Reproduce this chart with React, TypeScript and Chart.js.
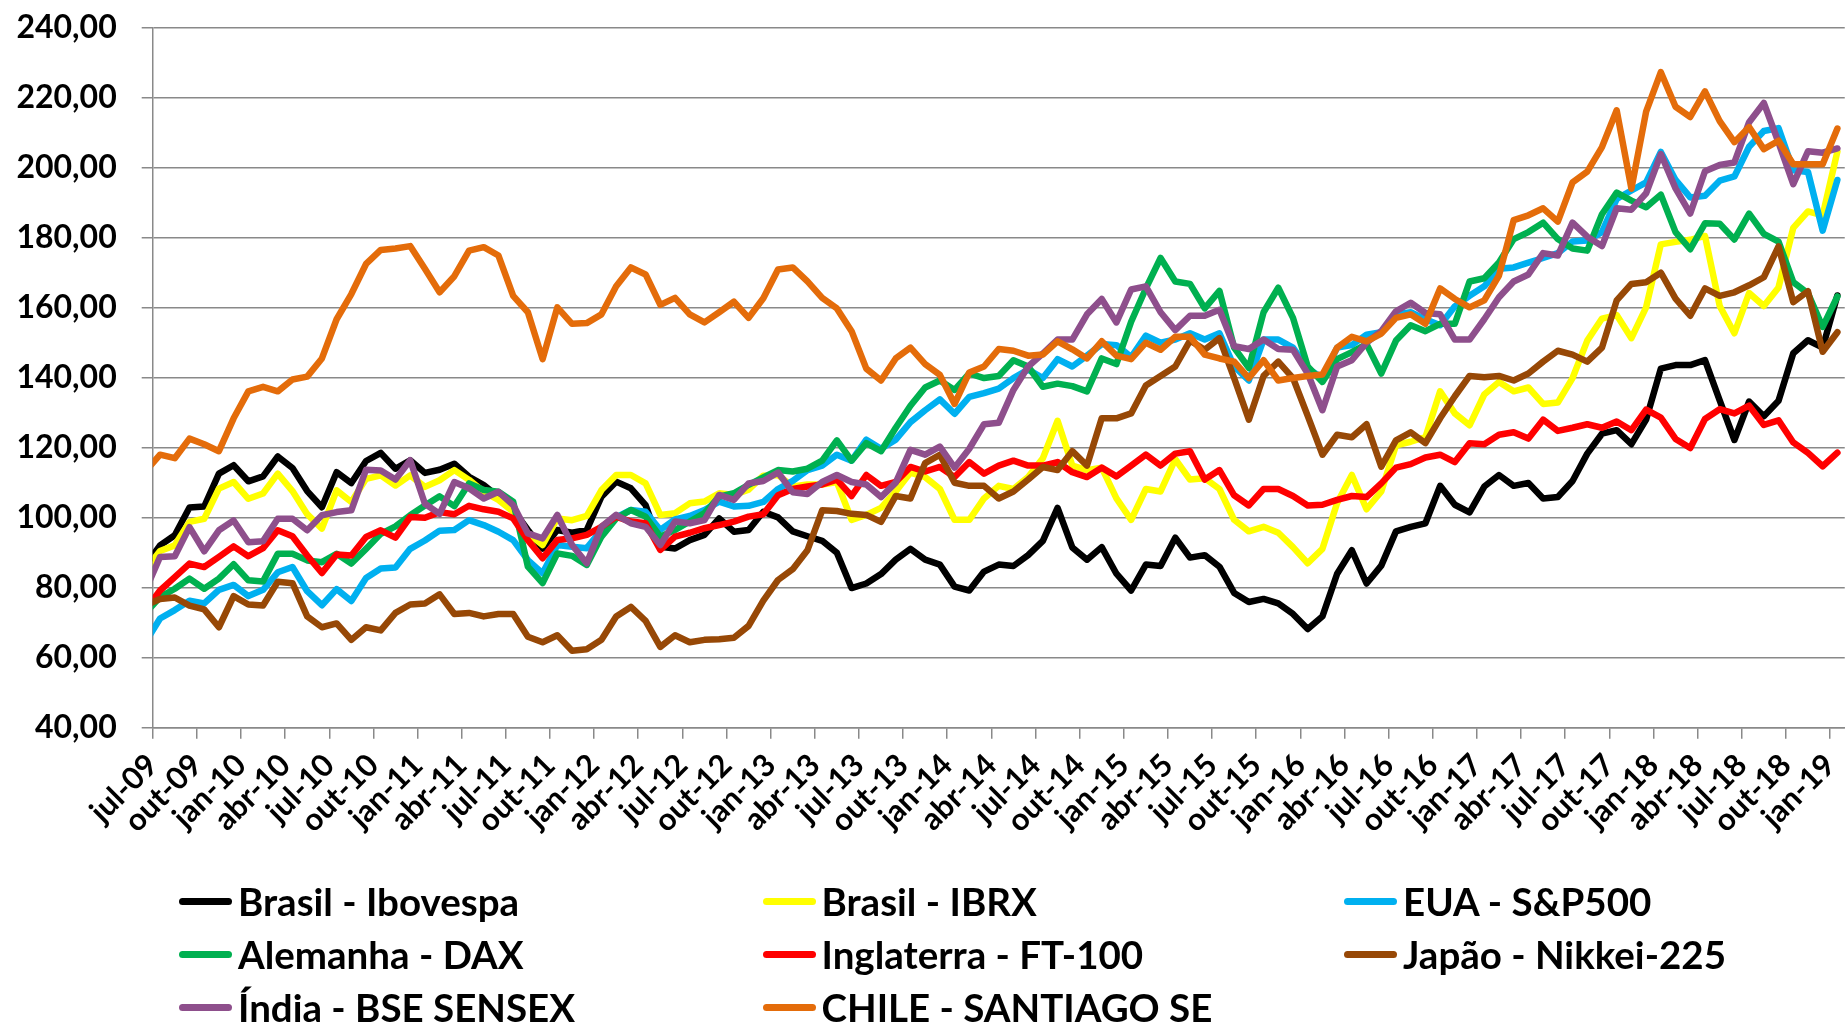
import React, { useEffect, useRef } from 'react';
import { Chart, registerables } from 'chart.js';

Chart.register(...registerables);

// Month categories: jun-09 .. jan-19 (the jun-09 point sits left of the axis and is clipped)
const monthAbbr = ['jan', 'fev', 'mar', 'abr', 'mai', 'jun', 'jul', 'ago', 'set', 'out', 'nov', 'dez'];
const months: string[] = [];
for (let k = 0; k < 116; k++) {
  const m = (5 + k) % 12;
  const yy = 9 + Math.floor((5 + k) / 12);
  months.push(`${monthAbbr[m]}-${String(yy).padStart(2, '0')}`);
}

const tickLabels = [
  'jul-09', 'out-09', 'jan-10', 'abr-10', 'jul-10', 'out-10', 'jan-11', 'abr-11', 'jul-11', 'out-11',
  'jan-12', 'abr-12', 'jul-12', 'out-12', 'jan-13', 'abr-13', 'jul-13', 'out-13', 'jan-14', 'abr-14',
  'jul-14', 'out-14', 'jan-15', 'abr-15', 'jul-15', 'out-15', 'jan-16', 'abr-16', 'jul-16', 'out-16',
  'jan-17', 'abr-17', 'jul-17', 'out-17', 'jan-18', 'abr-18', 'jul-18', 'out-18', 'jan-19',
];

const yTicks = [40, 60, 80, 100, 120, 140, 160, 180, 200, 220, 240];

const ibovespa = [
  86.3, 92.1, 95.0, 102.9, 103.2, 112.6, 115.0, 110.4, 111.8, 117.5, 114.2, 107.6, 103.0, 113.0, 109.9, 116.2,
  118.5, 114.0, 116.4, 112.8, 113.7, 115.4, 111.7, 109.3, 106.0, 102.2, 96.5, 91.2, 96.5, 95.7, 96.5, 106.0,
  110.3, 108.4, 103.6, 91.7, 91.2, 93.6, 95.1, 99.8, 96.0, 96.5, 101.7, 100.1, 96.1, 94.7, 93.4, 90.0,
  79.9, 81.2, 83.9, 88.0, 91.1, 88.0, 86.6, 80.3, 79.2, 84.6, 86.6, 86.2, 89.3, 93.4, 102.8, 91.5,
  88.0, 91.6, 84.0, 79.2, 86.6, 86.2, 94.3, 88.6, 89.3, 86.0, 78.5, 75.9, 76.8, 75.5, 72.5, 68.2,
  71.8, 84.0, 90.7, 81.2, 86.3, 96.1, 97.4, 98.4, 109.1, 103.7, 101.5, 108.9, 112.2, 109.1, 109.9, 105.5,
  105.9, 110.5, 118.3, 124.0, 125.0, 121.0, 128.0, 142.6, 143.6, 143.6, 145.0, 133.5, 122.2, 133.2, 129.0, 133.4,
  147.0, 150.7, 148.6, 163.5,
];

const ibrx = [
  85.1, 90.5, 92.1, 98.8, 99.7, 108.3, 110.2, 105.4, 106.9, 112.6, 107.6, 101.0, 96.9, 107.8, 104.5, 111.1,
  112.1, 109.2, 112.1, 108.8, 110.7, 113.6, 110.8, 107.4, 105.1, 101.7, 95.5, 92.2, 99.8, 99.3, 100.5, 107.9,
  112.2, 112.2, 109.8, 100.8, 101.3, 104.1, 104.6, 107.0, 106.5, 108.0, 112.0, 112.2, 108.9, 109.5, 109.5, 110.2,
  99.4, 100.8, 102.8, 107.5, 112.9, 111.6, 108.2, 99.4, 99.4, 105.5, 109.1, 108.2, 111.6, 117.0, 127.7, 114.9,
  113.6, 114.3, 105.5, 99.4, 108.2, 107.5, 116.7, 110.9, 111.3, 108.2, 99.4, 96.1, 97.4, 95.7, 91.6, 87.0,
  91.1, 104.2, 112.2, 102.4, 107.5, 120.7, 121.7, 123.0, 136.1, 129.8, 126.4, 135.2, 138.8, 136.1, 137.2, 132.5,
  132.9, 139.9, 150.6, 156.9, 157.9, 151.3, 160.1, 178.1, 178.8, 179.4, 180.5, 160.5, 152.7, 164.2, 160.5, 165.8,
  182.8, 187.5, 186.4, 204.6,
];

const sp500 = [
  64.4, 71.2, 73.6, 76.3, 75.5, 79.4, 80.8, 77.6, 79.4, 84.4, 85.9, 79.0, 75.0, 79.6, 76.2, 82.8,
  85.5, 85.8, 91.1, 93.5, 96.3, 96.5, 99.3, 97.9, 96.0, 93.6, 87.9, 84.1, 92.2, 91.7, 91.3, 96.5,
  100.1, 102.2, 101.7, 96.5, 99.5, 100.5, 102.2, 104.6, 103.2, 103.4, 104.5, 108.2, 110.5, 113.6, 114.9, 118.0,
  116.3, 122.3, 119.7, 122.3, 127.3, 130.7, 133.8, 129.7, 134.5, 135.6, 136.9, 139.9, 142.3, 139.9, 145.3, 143.2,
  146.3, 149.6, 149.3, 145.9, 152.0, 150.0, 150.9, 152.7, 150.9, 152.7, 143.2, 139.2, 150.9, 150.9, 148.6, 142.6,
  139.9, 148.6, 149.3, 152.3, 153.0, 158.1, 158.7, 156.7, 155.0, 160.4, 163.4, 166.1, 171.1, 171.5, 172.9, 174.2,
  175.6, 178.9, 179.2, 181.6, 191.1, 193.5, 195.8, 204.5, 196.5, 191.5, 192.0, 196.3, 197.5, 206.0, 210.5, 211.3,
  199.3, 198.8, 182.0, 196.5,
];

const dax = [
  72.7, 77.3, 79.7, 82.6, 79.7, 82.6, 86.7, 82.1, 81.8, 89.7, 89.7, 87.8, 87.3, 89.7, 86.9, 91.1,
  95.4, 97.5, 100.7, 103.5, 106.1, 103.3, 109.8, 107.9, 107.4, 104.6, 86.0, 81.3, 89.8, 89.1, 86.5, 94.6,
  99.8, 102.2, 100.3, 94.6, 96.5, 98.9, 101.3, 106.0, 107.0, 109.4, 111.5, 113.6, 113.2, 114.0, 116.3, 122.1,
  116.3, 121.3, 119.0, 125.7, 132.0, 137.2, 139.2, 136.5, 141.2, 139.9, 140.5, 145.0, 143.2, 137.4, 138.3, 137.6,
  136.1, 145.5, 143.9, 156.0, 165.5, 174.2, 167.5, 166.8, 159.8, 164.8, 148.6, 142.8, 158.7, 165.7, 157.1, 143.2,
  138.8, 145.3, 147.3, 149.6, 141.2, 150.6, 155.0, 153.3, 155.4, 155.4, 167.5, 168.4, 172.9, 179.6, 181.6, 184.3,
  179.6, 176.9, 176.3, 186.7, 192.9, 190.6, 188.7, 192.3, 181.6, 176.7, 184.1, 184.0, 179.5, 186.9, 181.1, 178.9,
  167.3, 164.1, 154.5, 163.2,
];

const ft100 = [
  73.6, 79.2, 83.0, 86.9, 85.9, 88.8, 91.8, 89.0, 91.3, 96.4, 94.7, 89.2, 84.2, 89.5, 89.2, 94.5,
  96.4, 94.3, 100.2, 100.0, 101.6, 101.0, 103.4, 102.4, 101.7, 99.8, 93.6, 88.4, 93.6, 94.1, 95.1, 97.4,
  100.3, 98.9, 98.4, 90.8, 94.6, 95.7, 97.0, 97.9, 98.9, 100.3, 101.0, 106.4, 108.2, 108.9, 109.5, 110.9,
  106.2, 112.2, 109.1, 110.2, 114.5, 113.2, 114.5, 111.6, 115.9, 112.6, 114.9, 116.3, 114.9, 114.9, 115.9, 113.0,
  111.6, 114.3, 111.8, 114.9, 118.0, 114.9, 118.3, 119.0, 110.9, 113.6, 106.4, 103.5, 108.2, 108.2, 106.2, 103.5,
  103.7, 105.1, 106.2, 105.9, 109.8, 114.3, 115.3, 117.2, 118.0, 115.9, 121.3, 121.0, 123.7, 124.4, 122.6, 128.0,
  124.8, 125.7, 126.7, 125.7, 127.5, 125.0, 130.9, 128.6, 122.5, 119.9, 128.2, 131.0, 129.8, 132.0, 126.5, 127.8,
  121.5, 118.5, 114.7, 118.6,
];

const nikkei = [
  75.0, 76.8, 77.2, 74.9, 73.8, 68.7, 77.6, 75.2, 74.9, 81.7, 81.3, 71.8, 68.7, 69.8, 65.1, 68.7,
  67.8, 72.8, 75.2, 75.5, 78.1, 72.5, 72.8, 71.8, 72.5, 72.5, 66.0, 64.4, 66.4, 62.0, 62.4, 65.1,
  71.8, 74.5, 70.5, 63.1, 66.4, 64.4, 65.1, 65.3, 65.7, 69.1, 76.3, 82.2, 85.3, 90.7, 102.1, 101.9,
  101.1, 100.8, 98.8, 106.2, 105.5, 115.6, 118.0, 110.0, 109.1, 109.1, 105.5, 107.5, 110.9, 114.5, 113.6, 119.0,
  114.9, 128.4, 128.4, 129.8, 137.8, 140.5, 143.2, 150.6, 148.0, 151.3, 139.9, 128.0, 140.5, 144.6, 139.9, 129.1,
  118.0, 123.7, 123.0, 126.7, 114.6, 122.1, 124.4, 121.3, 128.4, 134.7, 140.5, 140.1, 140.5, 139.2, 141.2, 144.6,
  147.7, 146.6, 144.6, 148.6, 162.1, 166.8, 167.3, 170.0, 162.6, 157.7, 165.5, 163.4, 164.4, 166.4, 168.7, 177.5,
  161.6, 164.7, 147.4, 153.0,
];

const sensex = [
  79.2, 88.8, 89.0, 97.3, 90.4, 96.4, 99.2, 93.0, 93.3, 99.7, 99.7, 96.4, 100.7, 101.6, 102.1, 113.7,
  113.5, 110.9, 116.4, 104.0, 101.1, 110.2, 108.4, 105.5, 107.4, 103.6, 95.5, 94.1, 100.8, 92.2, 87.0, 97.4,
  100.8, 98.4, 97.4, 92.2, 98.9, 98.4, 99.3, 106.5, 105.1, 109.8, 110.5, 112.9, 107.3, 106.8, 110.2, 112.2,
  110.2, 109.5, 105.9, 110.0, 119.4, 118.0, 120.3, 114.3, 119.7, 126.7, 127.1, 136.5, 143.2, 146.9, 150.9, 150.9,
  158.1, 162.5, 155.8, 165.2, 166.1, 158.7, 153.6, 157.7, 157.7, 159.4, 149.0, 148.2, 150.9, 148.2, 148.0, 141.2,
  130.7, 143.2, 145.0, 150.0, 153.3, 159.0, 161.4, 158.5, 158.1, 150.9, 150.9, 156.7, 163.0, 167.5, 169.5, 175.6,
  174.9, 184.3, 180.3, 177.6, 188.4, 188.0, 192.7, 203.9, 194.1, 186.9, 199.0, 200.8, 201.5, 213.0, 218.5, 207.2,
  195.3, 204.7, 204.3, 205.5,
];

const chile = [
  113.2, 118.0, 117.0, 122.6, 121.0, 119.0, 128.4, 136.1, 137.4, 136.1, 139.5, 140.3, 145.5, 156.7, 163.9, 172.5,
  176.5, 176.9, 177.6, 171.1, 164.4, 169.0, 176.3, 177.3, 174.9, 163.4, 158.7, 145.3, 160.1, 155.4, 155.6, 158.1,
  166.1, 171.5, 169.5, 160.8, 162.8, 158.1, 155.8, 158.7, 161.7, 157.1, 162.7, 170.9, 171.5, 167.5, 162.8, 159.8,
  153.3, 142.6, 139.2, 145.5, 148.6, 143.9, 140.8, 132.5, 141.5, 143.2, 148.2, 147.7, 146.3, 146.6, 150.4, 148.1,
  145.5, 150.4, 146.3, 145.3, 150.0, 148.0, 151.7, 151.7, 146.6, 145.5, 144.6, 139.9, 145.0, 139.2, 139.9, 140.5,
  140.9, 148.6, 151.7, 150.4, 152.6, 157.1, 158.1, 155.4, 165.5, 162.5, 160.1, 162.1, 169.2, 185.0, 186.4, 188.4,
  184.6, 195.8, 198.9, 205.9, 216.4, 194.0, 216.0, 227.3, 217.4, 214.5, 221.8, 213.3, 207.3, 211.6, 205.3, 207.7,
  201.0, 201.0, 201.0, 211.2,
];

const seriesData = [ibovespa, ibrx, sp500, dax, ft100, nikkei, sensex, chile];
const seriesLabels = [
  'Brasil - Ibovespa', 'Brasil - IBRX', 'EUA - S&P500',
  'Alemanha - DAX', 'Inglaterra - FT-100', 'Japão - Nikkei-225',
  'Índia - BSE SENSEX', 'CHILE - SANTIAGO SE',
];
const seriesColors = ['#000000', '#FFFF00', '#00B0F0', '#00B050', '#FF0000', '#974806', '#8E4F8C', '#E46C0A'];

const W = 1848;
const H = 1026;
const AREA_TOP = 27.7;
const AREA_BOTTOM = 727.7;
const AREA_LEFT = 152.7;
const GRID = '#898989';
const FONT = 'Lato';

const legendCols = [179, 762.5, 1344];
const legendRows = [901, 954, 1007];

export default function App() {
  const canvasRef = useRef<HTMLCanvasElement | null>(null);

  useEffect(() => {
    const canvas = canvasRef.current;
    if (!canvas) return;
    const chart = new Chart(canvas, {
      type: 'line',
      data: {
        datasets: seriesData.map((vals, i) => ({
          label: seriesLabels[i],
          data: vals.map((v, j) => ({ x: j - 0.5, y: v, month: months[j] })),
          borderColor: seriesColors[i],
          backgroundColor: seriesColors[i],
          borderWidth: 6.5,
          pointRadius: 0,
          pointHoverRadius: 0,
          tension: 0,
          borderJoinStyle: 'round',
          borderCapStyle: 'round',
          clip: 0,
          order: seriesData.length - 1 - i,
        })),
      },
      options: {
        animation: false,
        responsive: false,
        devicePixelRatio: 1,
        parsing: { xAxisKey: 'x', yAxisKey: 'y' },
        layout: { padding: { top: AREA_TOP, left: 0, right: 0, bottom: 0 } },
        plugins: { legend: { display: false }, tooltip: { enabled: false } },
        scales: {
          x: {
            type: 'linear',
            min: 0,
            max: 115,
            afterBuildTicks: (s: any) => {
              s.ticks = tickLabels.map((_, k) => ({ value: k * 3 }));
            },
            afterFit: (s: any) => {
              s.height = H - AREA_BOTTOM;
              s.paddingLeft = 0;
              s.paddingRight = 0;
            },
            ticks: {
              autoSkip: false,
              maxRotation: 45,
              minRotation: 45,
              padding: 8,
              color: '#000',
              font: { family: FONT, weight: 'bold', size: 31 },
              callback: (_v: any, idx: number) => tickLabels[idx],
            },
            grid: { drawOnChartArea: false, drawTicks: true, tickLength: 11, color: GRID, lineWidth: 1.5 },
            border: { display: true, color: GRID, width: 1.5 },
          },
          y: {
            min: 40,
            max: 240,
            afterBuildTicks: (s: any) => {
              s.ticks = yTicks.map((v) => ({ value: v }));
            },
            afterFit: (s: any) => {
              s.width = AREA_LEFT;
              s.paddingTop = 0;
              s.paddingBottom = 0;
            },
            ticks: {
              padding: 25,
              color: '#000',
              font: { family: FONT, weight: 'bold', size: 32 },
              callback: (v: any) => Number(v).toFixed(2).replace('.', ','),
            },
            grid: { color: GRID, lineWidth: 1.5, tickLength: 11 },
            border: { display: true, color: GRID, width: 1.5 },
          },
        },
      },
    } as any);
    let alive = true;
    if ((document as any).fonts && (document as any).fonts.load) {
      Promise.all([
        (document as any).fonts.load(`bold 32px ${FONT}`),
        (document as any).fonts.load(`bold 31px ${FONT}`),
      ]).then(() => {
        if (alive) chart.update();
      });
    }
    return () => {
      alive = false;
      chart.destroy();
    };
  }, []);

  return (
    <div
      style={{
        position: 'fixed',
        left: 0,
        top: 0,
        width: 1845,
        height: H,
        overflow: 'hidden',
        background: '#fff',
        fontFamily: FONT,
      }}
    >
      <canvas ref={canvasRef} width={W} height={H} style={{ position: 'absolute', left: 0, top: 0, width: W, height: H }} />
      {seriesLabels.map((label, i) => {
        const col = i % 3;
        const row = Math.floor(i / 3);
        const lh = 46;
        return (
          <div
            key={label}
            style={{
              position: 'absolute',
              left: legendCols[col],
              top: legendRows[row] - lh / 2,
              height: lh,
              display: 'flex',
              alignItems: 'center',
              whiteSpace: 'nowrap',
              fontSize: 38.5,
              fontWeight: 700,
              lineHeight: `${lh}px`,
              color: '#000',
            }}
          >
            <span
              style={{
                display: 'inline-block',
                width: 53,
                height: 7,
                borderRadius: 4,
                background: seriesColors[i],
                marginRight: 6,
              }}
            />
            <span>{label}</span>
          </div>
        );
      })}
    </div>
  );
}
